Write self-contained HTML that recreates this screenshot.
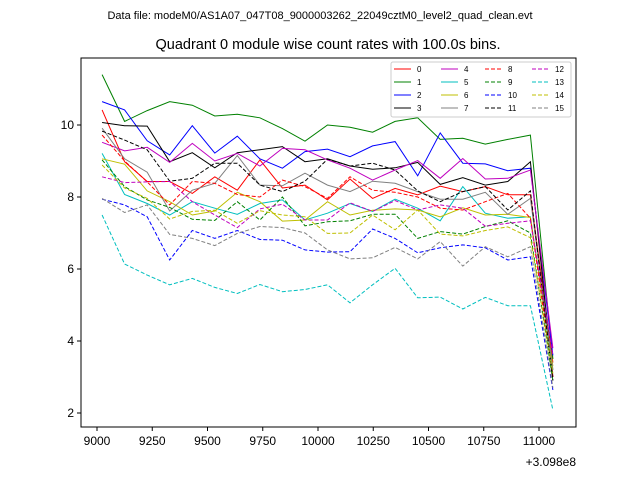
<!DOCTYPE html>
<html><head><meta charset="utf-8"><style>
body{margin:0;background:#fff}
svg{display:block;font-family:"Liberation Sans","DejaVu Sans",sans-serif}
</style></head><body>
<svg id="chart" width="640" height="480">
<text x="320" y="19" font-size="11" text-anchor="middle">Data file: modeM0/AS1A07_047T08_9000003262_22049cztM0_level2_quad_clean.evt</text>
<text x="328" y="49" font-size="14.5" text-anchor="middle">Quadrant 0 module wise count rates with 100.0s bins.</text>
<g id="plot"></g>
<rect x="81" y="58" width="495" height="369" fill="none" stroke="#000" stroke-width="1"/>
<text x="576" y="466" font-size="12" text-anchor="end">+3.098e8</text>
<g id="legend"></g>
</svg>
<script>
const times = [9023,9125,9227,9329,9431,9533,9635,9737,9839,9941,10043,10145,10247,10349,10451,10553,10655,10757,10859,10961,11063];
const s0 = [10.42,8.98,8.43,8.43,8.1,8.56,8.19,9.03,8.25,8.33,7.92,8.5,7.96,8.24,8.06,8.3,8.15,8.29,8.06,8.06,3.4];
const s1 = [11.4,10.1,10.4,10.65,10.55,10.25,10.3,10.2,9.9,9.55,10.0,9.94,9.8,10.1,10.2,9.6,9.63,9.47,9.6,9.72,3.5];
const s2 = [10.65,10.42,9.56,9.17,9.98,9.22,9.69,9.06,8.8,9.26,9.33,9.12,9.42,9.54,8.59,9.78,8.94,8.92,8.73,8.8,3.6];
const s3 = [10.07,9.98,9.97,8.98,9.23,8.81,9.23,9.31,9.4,8.98,9.06,8.86,8.77,8.81,8.96,8.35,8.54,8.33,8.43,8.98,3.0];
const s4 = [9.52,9.28,9.38,8.96,9.49,9.0,9.21,8.86,9.35,9.31,9.03,8.8,8.47,8.75,9.01,8.52,9.07,8.5,8.52,8.75,3.8];
const s5 = [9.21,8.07,7.82,7.5,7.87,7.69,7.52,7.82,7.92,7.36,7.55,7.82,7.6,7.94,7.69,7.34,8.29,7.55,7.41,7.45,3.2];
const s6 = [9.06,8.91,8.17,7.87,7.5,7.61,8.13,7.87,7.33,7.36,7.87,7.5,7.63,7.67,7.64,7.45,7.7,7.5,7.52,7.43,3.3];
const s7 = [9.91,9.06,8.69,7.61,8.19,8.38,9.15,8.33,8.31,8.66,8.33,8.15,8.44,8.38,8.15,7.94,7.94,8.13,7.52,7.96,3.2];
const s8 = [9.72,9.0,8.42,7.78,8.43,8.38,8.07,8.0,8.47,8.29,7.96,8.56,8.19,8.13,8.0,7.69,7.64,7.87,8.1,7.41,3.0];
const s9 = [9.03,8.29,7.92,7.71,7.38,7.35,7.87,7.36,8.0,7.2,7.31,7.34,7.52,7.52,6.85,7.04,6.97,7.18,7.34,7.0,2.9];
const s10 = [7.94,7.78,7.45,6.25,7.07,6.85,7.07,6.82,6.8,6.53,6.47,6.48,7.11,6.85,6.45,6.59,6.67,6.59,6.25,6.34,2.64];
const s11 = [9.83,9.58,9.31,8.44,8.52,8.94,8.94,8.33,8.15,8.44,9.05,8.86,8.94,8.75,8.17,7.87,8.15,8.29,7.64,8.17,2.9];
const s12 = [8.56,8.4,8.42,8.43,7.87,7.5,7.15,7.67,7.8,7.36,7.36,7.84,7.6,7.9,7.64,7.78,7.69,7.19,7.27,7.34,3.6];
const s13 = [7.5,6.14,5.83,5.56,5.74,5.49,5.32,5.57,5.37,5.43,5.56,5.06,5.56,6.02,5.2,5.22,4.89,5.21,4.98,4.98,2.08];
const s14 = [8.89,8.25,7.96,7.39,7.6,7.63,7.27,7.62,7.5,7.45,6.99,7.0,7.5,7.09,7.64,6.97,6.92,7.07,7.17,6.87,3.1];
const s15 = [7.96,7.57,7.78,6.96,6.85,6.65,6.99,7.18,7.15,7.0,6.53,6.28,6.31,6.6,6.28,6.76,6.08,6.62,6.34,6.62,2.7];
const seriesLabels = ["0","1","2","3","4","5","6","7","8","9","10","11","12","13","14","15"];
const xTicks = [9000,9250,9500,9750,10000,10250,10500,10750,11000];
const yTicks = [2,4,6,8,10];

const series=[s0,s1,s2,s3,s4,s5,s6,s7,s8,s9,s10,s11,s12,s13,s14,s15];
const colors=["#ff0000","#008000","#0000ff","#000000","#bf00bf","#00bfbf","#bfbf00","#808080"];
const NS="http://www.w3.org/2000/svg";
const xs=v=>97+(v-9000)*(442/2000);
const ys=v=>125-(v-10)*36;
const plot=document.getElementById('plot');
function mk(tag,attrs,parent){const e=document.createElementNS(NS,tag);for(const k in attrs)e.setAttribute(k,attrs[k]);parent.appendChild(e);return e;}
xTicks.forEach(t=>{
  const l=mk('line',{x1:xs(t),x2:xs(t),y1:427,y2:431,stroke:'#000'},plot);
  
  
  const tx=mk('text',{x:xs(t),y:445,'font-size':12,'text-anchor':'middle'},plot);
  tx.textContent=t;
  
  
});
yTicks.forEach(t=>{
  const l=mk('line',{x1:77,x2:81,y1:ys(t),y2:ys(t),stroke:'#000'},plot);
  
  
  const tx=mk('text',{x:74,y:ys(t)+4,'font-size':12,'text-anchor':'end'},plot);
  tx.textContent=t;
  
  
});
series.forEach((s,i)=>{
  const pts=s.map((v,j)=>xs(times[j]).toFixed(1)+','+ys(v).toFixed(1)).join(' ');
  const attrs={points:pts,fill:'none',stroke:colors[i%8],'stroke-width':1};
  if(i>=8)attrs['stroke-dasharray']='4,2';
  const p=mk('polyline',attrs,plot);
  
  
});
const lg=document.getElementById('legend');
const bx=mk('rect',{x:391,y:62,width:180,height:55,fill:'#fff','fill-opacity':0.8,stroke:'#ccc',rx:2},lg);


const colX=[394,441,485,532], rowY=[69,82,95,108];
seriesLabels.forEach((lab,i)=>{
  const c=Math.floor(i/4), r=i%4;
  const g=mk('g',{},lg);
  
  
  const la={x1:colX[c],x2:colX[c]+17,y1:rowY[r],y2:rowY[r],stroke:colors[i%8],'stroke-width':1};
  if(i>=8)la['stroke-dasharray']='4,2';
  mk('line',la,g);
  const t=mk('text',{x:colX[c]+23,y:rowY[r]+3,'font-size':8},g);
  t.textContent=lab;
});
</script>
</body></html>
